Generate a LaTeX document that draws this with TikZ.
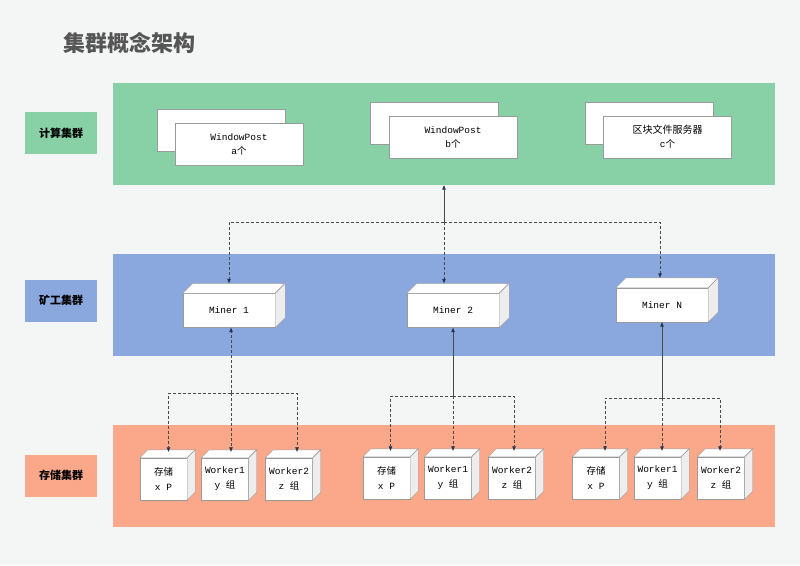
\documentclass[tikz,border=0pt]{standalone}
\usepackage{fontspec}
\setmonofont{Liberation Mono}
\newfontfamily\cjk{Noto Sans CJK SC}
\usepackage{tikz}
\usetikzlibrary{arrows.meta}

\definecolor{bgpaper}{HTML}{F3F6F5}
\definecolor{calcgreen}{HTML}{88D1A7}
\definecolor{minerblue}{HTML}{8AA7DE}
\definecolor{storeorange}{HTML}{FBA88A}
\definecolor{titlegray}{HTML}{555555}
\definecolor{cardline}{HTML}{9A9A9A}
\definecolor{sidegray}{HTML}{EDEDED}
\definecolor{linkgray}{HTML}{4A4A4A}
\definecolor{tipnavy}{HTML}{26324F}

% top and right faces of a box node
\newcommand{\drawdepth}[2]{%
  \draw[cardline, fill=white] (#1.north west) -- ++(#2,-#2) -- ([shift={(#2,-#2)}]#1.north east) -- (#1.north east) -- cycle;
  \draw[cardline, fill=sidegray] (#1.north east) -- ([shift={(#2,-#2)}]#1.north east) -- ([shift={(#2,-#2)}]#1.south east) -- (#1.south east) -- cycle;
}

\begin{document}
\begin{tikzpicture}[
    x=1pt, y=-1pt,
    band/.style={rectangle, inner sep=0pt, minimum width=662pt, minimum height=102pt},
    tag/.style={rectangle, inner sep=0pt, minimum width=72pt, minimum height=42pt, font=\cjk\bfseries\fontsize{11}{13}\selectfont},
    card/.style={rectangle, draw=cardline, fill=white, inner sep=0pt, minimum width=128pt, minimum height=42pt, align=center, font=\ttfamily\fontsize{9.5}{14}\selectfont},
    miner/.style={rectangle, draw=cardline, fill=white, inner sep=0pt, minimum width=92pt, minimum height=34pt, font=\ttfamily\fontsize{9.5}{12}\selectfont},
    store/.style={rectangle, draw=cardline, fill=white, inner sep=0pt, minimum width=47pt, minimum height=42pt, align=center, font=\ttfamily\fontsize{9.5}{15}\selectfont},
    link/.style={draw=linkgray, line width=0.6pt, -{Triangle[length=4.5pt,width=3.5pt,color=tipnavy]}},
    dashlink/.style={link, dash pattern=on 3pt off 2pt}
]

% Background
\fill[bgpaper] (0,0) rectangle (800,565);

% Title
\node[font=\cjk\bfseries\fontsize{22}{24}\selectfont, text=titlegray] (title) at (129,43) {集群概念架构};

% Define bands
\node[band, fill=calcgreen] (calc) at (444,134) {};
\node[band, fill=minerblue] (mine) at (444,304.5) {};
\node[band, fill=storeorange] (store) at (444,476) {};

% Define tags
\node[tag, fill=calcgreen] (calctag) at (61,133) {计算集群};
\node[tag, fill=minerblue] (minetag) at (61,300.5) {矿工集群};
\node[tag, fill=storeorange] (storetag) at (61,475.5) {存储集群};

% Define compute cards
\node[card] (wpaback) at (221,130.5) {};
\node[card] (wpa) at (239,144) {WindowPost\\a{\cjk 个}};
\node[card] (wpbback) at (434,123) {};
\node[card] (wpb) at (453,137) {WindowPost\\b{\cjk 个}};
\node[card] (fsback) at (649,123) {};
\node[card] (fs) at (667.5,137) {{\cjk\fontsize{10}{14}\selectfont 区块文件服务器}\\c{\cjk 个}};

% Define miners
\node[miner] (m1) at (229,310.5) {Miner 1};
\node[miner] (m2) at (453,310.5) {Miner 2};
\node[miner] (mN) at (662,305) {Miner N};
\drawdepth{m1}{10}
\drawdepth{m2}{10}
\drawdepth{mN}{10}

% Define storage and workers
\node[store] (s11) at (163.5,479) {{\cjk 存储}\\x P};
\node[store] (s12) at (225,479) {Worker1\\y {\cjk 组}};
\node[store] (s13) at (289,479) {Worker2\\z {\cjk 组}};
\node[store] (s21) at (386.5,478) {{\cjk 存储}\\x P};
\node[store] (s22) at (448,478) {Worker1\\y {\cjk 组}};
\node[store] (s23) at (512,478) {Worker2\\z {\cjk 组}};
\node[store] (s31) at (596,478) {{\cjk 存储}\\x P};
\node[store] (s32) at (657.5,478) {Worker1\\y {\cjk 组}};
\node[store] (s33) at (721,478) {Worker2\\z {\cjk 组}};
\foreach \s in {s11,s12,s13,s21,s22,s23,s31,s32,s33} {\drawdepth{\s}{8}}

% Define junctions
\coordinate (hub) at (444,222);
\coordinate (j1) at (231,393);
\coordinate (j2) at (453,396);
\coordinate (j3) at (662,398);
\coordinate (m2top) at ([yshift=10]m2.north);

% Miners to compute
\draw[link] (hub) -- (hub |- calc.south);
\draw[dashlink] (hub) -| ([yshift=10]m1.north);
\draw[dashlink] (hub) -- (hub |- m2top);
\draw[dashlink] (hub) -| ([xshift=-2,yshift=10]mN.north);

% Storage to miners
\draw[dashlink] (j1) -- (j1 |- m1.south);
\draw[dashlink] (j1) -| ([xshift=5,yshift=6]s11.north);
\draw[dashlink] (j1) -- ([xshift=6,yshift=6]s12.north);
\draw[dashlink] (j1) -| ([xshift=8,yshift=6]s13.north);

\draw[link] (j2) -- (j2 |- m2.south);
\draw[dashlink] (j2) -| ([xshift=4,yshift=6]s21.north);
\draw[dashlink] (j2) -- ([xshift=5,yshift=6]s22.north);
\draw[dashlink] (j2) -| ([xshift=2,yshift=6]s23.north);

\draw[link] (j3) -- (j3 |- mN.south);
\draw[dashlink] (j3) -| ([xshift=9,yshift=6]s31.north);
\draw[dashlink] (j3) -- ([xshift=4.5,yshift=6]s32.north);
\draw[dashlink] (j3) -| ([xshift=-1,yshift=6]s33.north);

\end{tikzpicture}
\end{document}
